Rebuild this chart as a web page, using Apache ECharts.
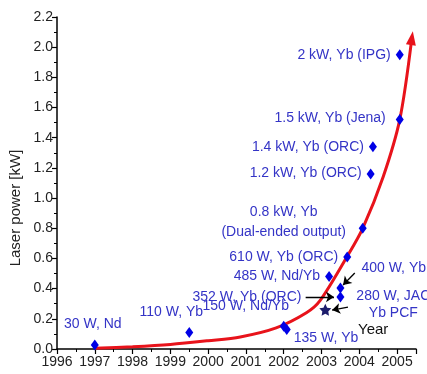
<!DOCTYPE html>
<html>
<head>
<meta charset="utf-8">
<script src="https://cdn.jsdelivr.net/npm/echarts@6/dist/echarts.min.js"></script>
<style>
  html, body { margin: 0; padding: 0; background: #fff; }
  #chart { width: 427px; height: 374px; }
</style>
</head>
<body>
<div id="chart"></div>
<script>
// fiber laser records (year, kW)
const recYears = [1997.0, 1999.5, 2002.0, 2002.08, 2003.5, 2003.5, 2003.2, 2003.68, 2004.09, 2004.3, 2004.36, 2005.07, 2005.07];
const recPower = [0.026, 0.11, 0.15, 0.13, 0.345, 0.405, 0.48, 0.61, 0.80, 1.16, 1.34, 1.52, 1.95];
const recNames = ['30 W, Nd', '110 W, Yb', '150 W, Nd/Yb', '135 W, Yb', '352 W, Yb (ORC)', '400 W, Yb',
  '485 W, Nd/Yb', '610 W, Yb (ORC)', '0.8 kW, Yb\n(Dual-ended output)', '1.2 kW, Yb (ORC)',
  '1.4 kW, Yb (ORC)', '1.5 kW, Yb (Jena)', '2 kW, Yb (IPG)'];

// photonic crystal fiber point (star)
const pcfYear = [2003.1];
const pcfPower = [0.26];
const pcfName = ['280 W, JAC\nYb PCF'];

// red trend curve
const curveYears = [1997.0, 1998.0, 1999.0, 2000.0, 2000.85, 2001.8, 2002.6, 2002.96, 2003.67, 2004.09, 2004.63, 2005.07, 2005.39];
const curvePower = [0.005, 0.015, 0.03, 0.055, 0.08, 0.14, 0.24, 0.32, 0.61, 0.80, 1.14, 1.52, 2.06];

// black pointer arrows (from -> to)
const arrowFrom = [[2002.58, 0.345], [2003.88, 0.504], [2003.70, 0.278]];
const arrowTo = [[2003.33, 0.345], [2003.57, 0.424], [2003.28, 0.258]];

const xTicks = [1996, 1997, 1998, 1999, 2000, 2001, 2002, 2003, 2004, 2005];
const yTicks = [0, 0.2, 0.4, 0.6, 0.8, 1.0, 1.2, 1.4, 1.6, 1.8, 2.0, 2.2];

// label placement per record (layout only)
const labelPos = ['top', 'top', 'top', 'right', 'left', 'right', 'left', 'left', 'left', 'left', 'left', 'left', 'left'];
const labelOff = [[-2, 0], [-18, 0], [-38, 0], [-2, 9], [-30, 0], [12, -20], [0, 0], [0, 0], [-70, -6], [0, -1], [0, 0], [-5, -1], [0, 0]];

const font = 'Arial, "Liberation Sans", sans-serif';
const blueText = '#3434c6';

const chart = echarts.init(document.getElementById('chart'));

const recData = recYears.map((y, i) => ({
  value: [y, recPower[i]],
  name: recNames[i],
  label: {
    position: labelPos[i],
    offset: labelOff[i],
    align: i === 8 ? 'center' : undefined
  }
}));

const curveData = curveYears.map((y, i) => [y, curvePower[i]]);
const last = curveData[curveData.length - 1];

chart.setOption({
  animation: false,
  grid: { left: 57, right: 11, top: 17, bottom: 25 },
  xAxis: {
    type: 'value',
    min: xTicks[0],
    max: 2005.5,
    interval: 1,
    axisLine: { lineStyle: { color: '#000', width: 1.5 } },
    axisTick: { length: 5, lineStyle: { color: '#000', width: 1.2 } },
    minorTick: { show: true, splitNumber: 2, length: 3, lineStyle: { color: '#000' } },
    splitLine: { show: false },
    axisLabel: {
      showMaxLabel: false,
      color: '#222', fontSize: 14, fontFamily: font, margin: 6,
      formatter: v => (xTicks.indexOf(v) >= 0 ? String(v) : '')
    }
  },
  yAxis: {
    type: 'value',
    min: 0,
    max: yTicks[yTicks.length - 1],
    interval: 0.2,
    axisLine: { show: true, lineStyle: { color: '#000', width: 1.5 } },
    axisTick: { show: true, length: 5, lineStyle: { color: '#000', width: 1.2 } },
    minorTick: { show: true, splitNumber: 2, length: 3, lineStyle: { color: '#000' } },
    splitLine: { show: false },
    axisLabel: {
      color: '#222', fontSize: 14, fontFamily: font, margin: 4,
      formatter: v => v.toFixed(1)
    }
  },
  graphic: [
    {
      type: 'text', x: 16, y: 208, rotation: Math.PI / 2,
      style: { text: 'Laser power [kW]', font: '15px ' + font, fill: '#222', align: 'center', verticalAlign: 'middle' }
    },
    {
      type: 'text', x: 358, y: 330,
      style: { text: 'Year', font: '15px ' + font, fill: '#111', align: 'left', verticalAlign: 'middle' }
    }
  ],
  series: [
    {
      type: 'line',
      data: curveData,
      smooth: 0.3,
      symbol: 'none',
      lineStyle: { color: '#e8131b', width: 3 },
      z: 2
    },
    {
      // arrow head of the trend curve
      type: 'scatter',
      data: [last],
      symbol: 'triangle',
      symbolSize: [10, 14],
      symbolRotate: -8,
      itemStyle: { color: '#e8131b', opacity: 1 },
      z: 3
    },
    {
      type: 'lines',
      coordinateSystem: 'cartesian2d',
      data: arrowFrom.map((p, i) => ({ coords: [p, arrowTo[i]] })),
      symbol: ['none', 'arrow'],
      symbolSize: 8,
      lineStyle: { color: '#000', width: 1.3, curveness: 0, opacity: 1 },
      z: 4
    },
    {
      type: 'scatter',
      data: recData,
      symbol: 'diamond',
      symbolSize: [8, 11],
      itemStyle: { color: '#0000e6', opacity: 1 },
      label: {
        show: true,
        formatter: p => p.name,
        color: blueText,
        fontSize: 14,
        fontFamily: font,
        lineHeight: 20
      },
      z: 5
    },
    {
      type: 'scatter',
      data: pcfYear.map((y, i) => ({ value: [y, pcfPower[i]], name: pcfName[i] })),
      symbol: 'path://M0,-10 L2.9,-4 L9.5,-3.1 L4.7,1.5 L5.9,8.1 L0,5 L-5.9,8.1 L-4.7,1.5 L-9.5,-3.1 L-2.9,-4 Z',
      symbolSize: 12,
      itemStyle: { color: '#1c1c6b', opacity: 1 },
      label: {
        show: true,
        position: 'right',
        align: 'center',
        offset: [57, -5],
        formatter: p => p.name,
        color: blueText,
        fontSize: 14,
        fontFamily: font,
        lineHeight: 17
      },
      z: 5
    }
  ]
});
</script>
</body>
</html>
